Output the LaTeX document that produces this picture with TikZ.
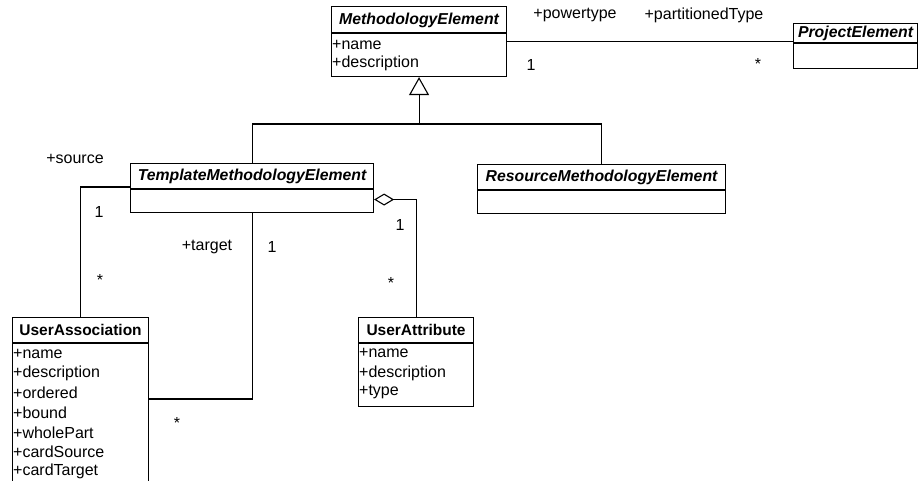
\documentclass[tikz,border=0pt]{standalone}
\usepackage{fontspec}
\setmainfont{Liberation Sans}
\usetikzlibrary{arrows.meta,calc}
\begin{document}
\begin{tikzpicture}[x=1pt,y=-1pt,
  every node/.style={font=\fontsize{16}{19}\selectfont, inner sep=0pt},
  classbox/.style={draw, line width=1.1pt, anchor=north west, fill=white},
  rule/.style={line width=1.1pt},
  conn/.style={line width=1.1pt},
  absname/.style={font=\fontsize{15.8}{19}\selectfont\bfseries\itshape},
  clsname/.style={font=\fontsize{15.5}{19}\selectfont\bfseries},
  attr/.style={anchor=west},
  lbl/.style={},
  gen/.style={conn, -{Triangle[open, length=18pt, width=20pt]}},
  agg/.style={conn, -{Diamond[open, length=20pt, width=12pt]}}]
\useasboundingbox (0,0) rectangle (918,481);
\fill[white] (0,0) rectangle (918,481);
\clip (0,0) rectangle (918,481);

% MethodologyElement
\node[classbox, minimum width=175pt, minimum height=70pt] (me) at (331,6) {};
\draw[rule] ($(me.north west)+(0,27)$) -- ($(me.north east)+(0,27)$);
\node[absname] (meh) at ($(me.north)+(0,14)$) {MethodologyElement};
\node[attr] (mea1) at (332,45) {+name};
\node[attr] (mea2) at (332,63) {+description};

% ProjectElement
\node[classbox, minimum width=124pt, minimum height=45pt] (pe) at (793,23) {};
\draw[rule] ($(pe.north west)+(0,20)$) -- ($(pe.north east)+(0,20)$);
\node[absname] (peh) at ($(pe.north)+(0,10.5)$) {ProjectElement};

% TemplateMethodologyElement
\node[classbox, minimum width=243pt, minimum height=49pt] (tme) at (130,163) {};
\draw[rule] ($(tme.north west)+(0,26)$) -- ($(tme.north east)+(0,26)$);
\node[absname] (tmeh) at ($(tme.north)+(0,13)$) {TemplateMethodologyElement};

% ResourceMethodologyElement
\node[classbox, minimum width=248pt, minimum height=49pt] (rme) at (477,164) {};
\draw[rule] ($(rme.north west)+(0,26)$) -- ($(rme.north east)+(0,26)$);
\node[absname] (rmeh) at ($(rme.north)+(0,13)$) {ResourceMethodologyElement};

% UserAssociation (continues past the lower edge)
\node[classbox, minimum width=136pt, minimum height=180pt] (ua) at (12,317) {};
\draw[rule] ($(ua.north west)+(0,26)$) -- ($(ua.north east)+(0,26)$);
\node[clsname] (uah) at ($(ua.north)+(0,13)$) {UserAssociation};
\node[attr] (uaa1) at (13,354) {+name};
\node[attr] (uaa2) at (13,373.6) {+description};
\node[attr] (uaa3) at (13,393.2) {+ordered};
\node[attr] (uaa4) at (13,412.8) {+bound};
\node[attr] (uaa5) at (13,432.4) {+wholePart};
\node[attr] (uaa6) at (13,452) {+cardSource};
\node[attr] (uaa7) at (13,471.6) {+cardTarget};

% UserAttribute
\node[classbox, minimum width=115pt, minimum height=89pt] (uat) at (358,317) {};
\draw[rule] ($(uat.north west)+(0,26)$) -- ($(uat.north east)+(0,26)$);
\node[clsname] (uath) at ($(uat.north)+(0,13)$) {UserAttribute};
\node[attr] (uata1) at (359,353) {+name};
\node[attr] (uata2) at (359,373) {+description};
\node[attr] (uata3) at (359,392) {+type};

% generalization
\coordinate (gj) at (me.south |- 0,124);
\draw[conn] (tme.north) |- (gj);
\draw[conn] (rme.north) |- (gj);
\draw[gen] (gj) -- (me.south);

% powertype association
\draw[conn] (me.east) -- (me.east -| pe.west);
\node[lbl] (l1) at (575,15) {+powertype};
\node[lbl] (l2) at (704,15) {+partitionedType};
\node[lbl] (l3) at (531,65) {1};
\node[lbl] (l4) at (758,64) {*};

% source association
\coordinate (srcend) at ($(tme.north west)+(0,24)$);
\draw[conn] (ua.north) |- (srcend);
\node[lbl] (l5) at (75,159) {+source};
\node[lbl] (l6) at (99,212) {1};
\node[lbl] (l7) at (100,280) {*};

% target association
\coordinate (tgtend) at (ua.east |- 0,399);
\draw[conn] (tme.south) |- (tgtend);
\node[lbl] (l8) at (207,247) {+target};
\node[lbl] (l9) at (272,247) {1};
\node[lbl] (l10) at (177,423) {*};

% aggregation
\coordinate (aggend) at ($(tme.east)+(0,11.5)$);
\draw[agg] (uat.north) |- (aggend);
\node[lbl] (l11) at (400,225) {1};
\node[lbl] (l12) at (391,283) {*};
\end{tikzpicture}
\end{document}
